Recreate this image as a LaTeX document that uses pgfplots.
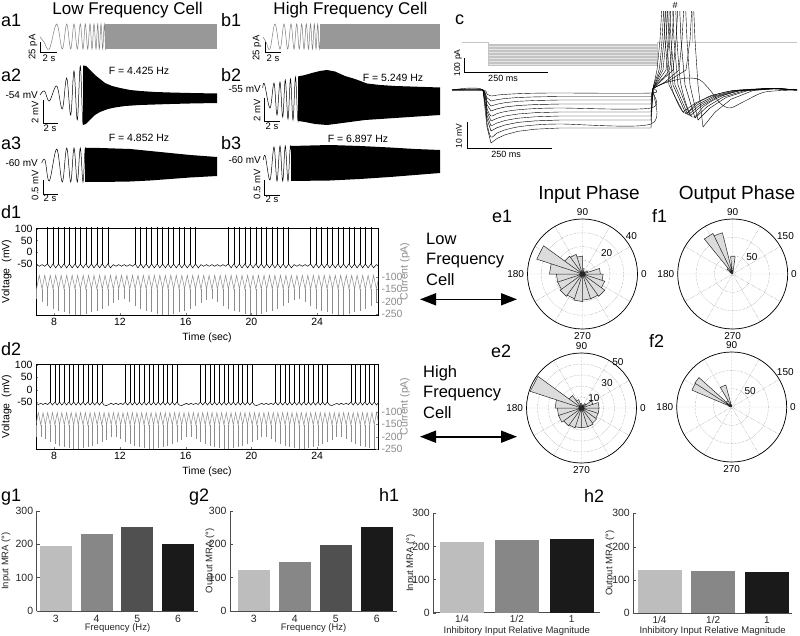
\documentclass[border=0pt]{standalone}
\usepackage{fontspec}
\setmainfont{Liberation Sans}
\usepackage{pgfplots}
\usepackage{pgfplotstable}
\pgfplotsset{compat=1.18}
\usepgfplotslibrary{polar}
\usetikzlibrary{arrows.meta}

\definecolor{gA}{HTML}{BDBDBD}
\definecolor{gB}{HTML}{878787}
\definecolor{gC}{HTML}{505050}
\definecolor{gD}{HTML}{1A1A1A}
\definecolor{wfill}{HTML}{DCDCDC}
\definecolor{curr}{HTML}{8C8C8C}
\definecolor{stim}{HTML}{7E7E7E}
\definecolor{stepc}{HTML}{C4C4C4}

\newcommand{\fs}[1]{\fontsize{#1}{#1}\selectfont}

\pgfplotsset{
  trace/.style={hide axis, scale only axis, anchor=north west},
  dstyle/.style={anchor=north west, scale only axis, width=342pt, height=87pt,
    xmin=6.9, xmax=27.7, tick align=inside, major tick length=2.5pt,
    tick label style={font=\fs{10.5}}, label style={font=\fs{10.5}},
    axis line style={black, line width=0.5pt},
    /pgf/number format/assume math mode=true},
  bstyle/.style={anchor=south west, scale only axis, ymin=0, ymax=300,
    ytick={0,100,200,300}, axis x line*=bottom, axis y line*=left,
    axis line style={-, black!70, line width=0.6pt}, tick align=inside,
    major tick length=3pt, xtick style={draw=none}, ytick style={black!70},
    tick label style={font=\fs{10.5}, text=black!85}, label style={font=\fs{9.5}, text=black!85},
    xticklabel shift=-2.5pt,
    xlabel style={at={(axis description cs:0.5,0)}, anchor=base, yshift=-19.5pt},
    ybar, /pgf/number format/assume math mode=true},
  rose/.style={anchor=center, scale only axis, width=110pt, height=110pt, ymin=0,
    clip=false, y axis line style={draw=none},
    xtick={0,30,...,330}, xticklabels={0,,,90,,,180,,,270,,}, yticklabels={},
    grid=major, major grid style={black!50, densely dotted, line width=0.4pt},
    axis line style={black, line width=0.7pt}, major tick length=0pt,
    tick label style={font=\fs{10}}, /pgf/number format/assume math mode=true},
  wedge/.style={fill=wfill, draw=black!85, line width=0.5pt},
}

% d1: spike/trough row and peak row per input cycle (3 Hz)
\pgfplotstableread{
t v ve i ie
6.93 -53 0 -148 42
7.10 -60 0 -93 0
7.27 -53 0 -148 55
7.43 -60 0 -93 0
7.60 -50 160 -148 70
7.77 -67 0 -93 0
7.93 -50 160 -148 80
8.10 -67 0 -93 0
8.27 -50 160 -148 88
8.43 -67 0 -93 0
8.60 -50 160 -148 95
8.77 -67 0 -93 0
8.93 -50 160 -148 100
9.10 -67 0 -93 0
9.27 -50 160 -148 104
9.43 -67 0 -93 0
9.60 -50 160 -148 104
9.77 -67 0 -93 0
9.93 -50 160 -148 100
10.10 -67 0 -93 0
10.27 -50 160 -148 95
10.43 -67 0 -93 0
10.60 -50 160 -148 88
10.77 -67 0 -93 0
10.93 -50 160 -148 80
11.10 -67 0 -93 0
11.27 -50 160 -148 70
11.43 -67 0 -93 0
11.60 -53 0 -148 58
11.77 -60 0 -93 0
11.93 -53 0 -148 45
12.10 -60 0 -93 0
12.27 -53 0 -148 42
12.43 -60 0 -93 0
12.60 -53 0 -148 55
12.77 -60 0 -93 0
12.93 -50 160 -148 70
13.10 -67 0 -93 0
13.27 -50 160 -148 80
13.43 -67 0 -93 0
13.60 -50 160 -148 88
13.77 -67 0 -93 0
13.93 -50 160 -148 95
14.10 -67 0 -93 0
14.27 -50 160 -148 100
14.43 -67 0 -93 0
14.60 -50 160 -148 104
14.77 -67 0 -93 0
14.93 -50 160 -148 104
15.10 -67 0 -93 0
15.27 -50 160 -148 100
15.43 -67 0 -93 0
15.60 -50 160 -148 95
15.77 -67 0 -93 0
15.93 -50 160 -148 88
16.10 -67 0 -93 0
16.27 -50 160 -148 80
16.43 -67 0 -93 0
16.60 -50 160 -148 70
16.77 -67 0 -93 0
16.93 -53 0 -148 58
17.10 -60 0 -93 0
17.27 -53 0 -148 45
17.43 -60 0 -93 0
17.60 -53 0 -148 42
17.77 -60 0 -93 0
17.93 -53 0 -148 55
18.10 -60 0 -93 0
18.27 -53 0 -148 70
18.43 -60 0 -93 0
18.60 -50 160 -148 80
18.77 -67 0 -93 0
18.93 -50 160 -148 88
19.10 -67 0 -93 0
19.27 -50 160 -148 95
19.43 -67 0 -93 0
19.60 -50 160 -148 100
19.77 -67 0 -93 0
19.93 -50 160 -148 104
20.10 -67 0 -93 0
20.27 -50 160 -148 104
20.43 -67 0 -93 0
20.60 -50 160 -148 100
20.77 -67 0 -93 0
20.93 -50 160 -148 95
21.10 -67 0 -93 0
21.27 -50 160 -148 88
21.43 -67 0 -93 0
21.60 -50 160 -148 80
21.77 -67 0 -93 0
21.93 -50 160 -148 70
22.10 -67 0 -93 0
22.27 -50 160 -148 58
22.43 -67 0 -93 0
22.60 -53 0 -148 45
22.77 -60 0 -93 0
22.93 -53 0 -148 42
23.10 -60 0 -93 0
23.27 -53 0 -148 55
23.43 -60 0 -93 0
23.60 -50 160 -148 70
23.77 -67 0 -93 0
23.93 -50 160 -148 80
24.10 -67 0 -93 0
24.27 -50 160 -148 88
24.43 -67 0 -93 0
24.60 -50 160 -148 95
24.77 -67 0 -93 0
24.93 -50 160 -148 100
25.10 -67 0 -93 0
25.27 -50 160 -148 104
25.43 -67 0 -93 0
25.60 -50 160 -148 104
25.77 -67 0 -93 0
25.93 -50 160 -148 100
26.10 -67 0 -93 0
26.27 -50 160 -148 95
26.43 -67 0 -93 0
26.60 -50 160 -148 88
26.77 -67 0 -93 0
26.93 -50 160 -148 80
27.10 -67 0 -93 0
27.27 -50 160 -148 70
27.43 -67 0 -93 0
27.60 -53 0 -148 58
27.77 -60 0 -93 0
}\dA

% d2: same layout, 3.5 Hz input
\pgfplotstableread{
t v ve i ie
6.90 -55 0 -152 50
7.04 -60 0 -103 0
7.19 -55 0 -152 48
7.33 -60 0 -103 0
7.47 -55 0 -152 58
7.61 -60 0 -103 0
7.76 -50 160 -152 70
7.90 -62 0 -103 0
8.05 -50 160 -152 78
8.19 -62 0 -103 0
8.33 -50 160 -152 85
8.47 -62 0 -103 0
8.62 -50 160 -152 90
8.76 -62 0 -103 0
8.90 -50 160 -152 95
9.04 -62 0 -103 0
9.19 -50 160 -152 98
9.33 -62 0 -103 0
9.47 -50 160 -152 98
9.61 -62 0 -103 0
9.76 -50 160 -152 95
9.90 -62 0 -103 0
10.05 -50 160 -152 90
10.19 -62 0 -103 0
10.33 -50 160 -152 85
10.47 -62 0 -103 0
10.62 -50 160 -152 78
10.76 -62 0 -103 0
10.90 -50 160 -152 70
11.04 -62 0 -103 0
11.19 -64 0 -152 60
11.33 -60 0 -103 0
11.47 -55 0 -152 50
11.61 -60 0 -103 0
11.76 -55 0 -152 48
11.90 -60 0 -103 0
12.05 -55 0 -152 58
12.19 -60 0 -103 0
12.33 -50 160 -152 70
12.47 -62 0 -103 0
12.62 -50 160 -152 78
12.76 -62 0 -103 0
12.90 -50 160 -152 85
13.04 -62 0 -103 0
13.19 -50 160 -152 90
13.33 -62 0 -103 0
13.47 -50 160 -152 95
13.61 -62 0 -103 0
13.76 -50 160 -152 98
13.90 -62 0 -103 0
14.05 -50 160 -152 98
14.19 -62 0 -103 0
14.33 -50 160 -152 95
14.47 -62 0 -103 0
14.62 -50 160 -152 90
14.76 -62 0 -103 0
14.90 -50 160 -152 85
15.04 -62 0 -103 0
15.19 -50 160 -152 78
15.33 -62 0 -103 0
15.47 -50 160 -152 70
15.61 -62 0 -103 0
15.76 -64 0 -152 60
15.90 -60 0 -103 0
16.05 -55 0 -152 50
16.19 -60 0 -103 0
16.33 -55 0 -152 48
16.47 -60 0 -103 0
16.62 -55 0 -152 58
16.76 -60 0 -103 0
16.90 -50 160 -152 70
17.04 -62 0 -103 0
17.19 -50 160 -152 78
17.33 -62 0 -103 0
17.47 -50 160 -152 85
17.61 -62 0 -103 0
17.76 -50 160 -152 90
17.90 -62 0 -103 0
18.05 -50 160 -152 95
18.19 -62 0 -103 0
18.33 -50 160 -152 98
18.47 -62 0 -103 0
18.62 -50 160 -152 98
18.76 -62 0 -103 0
18.90 -50 160 -152 95
19.04 -62 0 -103 0
19.19 -50 160 -152 90
19.33 -62 0 -103 0
19.47 -50 160 -152 85
19.61 -62 0 -103 0
19.76 -50 160 -152 78
19.90 -62 0 -103 0
20.05 -50 160 -152 70
20.19 -62 0 -103 0
20.33 -64 0 -152 60
20.47 -60 0 -103 0
20.62 -55 0 -152 50
20.76 -60 0 -103 0
20.90 -55 0 -152 48
21.04 -60 0 -103 0
21.19 -55 0 -152 58
21.33 -60 0 -103 0
21.47 -50 160 -152 70
21.61 -62 0 -103 0
21.76 -50 160 -152 78
21.90 -62 0 -103 0
22.05 -50 160 -152 85
22.19 -62 0 -103 0
22.33 -50 160 -152 90
22.47 -62 0 -103 0
22.62 -50 160 -152 95
22.76 -62 0 -103 0
22.90 -50 160 -152 98
23.04 -62 0 -103 0
23.19 -50 160 -152 98
23.33 -62 0 -103 0
23.47 -50 160 -152 95
23.61 -62 0 -103 0
23.76 -50 160 -152 90
23.90 -62 0 -103 0
24.05 -50 160 -152 85
24.19 -62 0 -103 0
24.33 -50 160 -152 78
24.47 -62 0 -103 0
24.62 -50 160 -152 70
24.76 -62 0 -103 0
24.90 -64 0 -152 60
25.04 -60 0 -103 0
25.19 -55 0 -152 50
25.33 -60 0 -103 0
25.47 -55 0 -152 48
25.61 -60 0 -103 0
25.76 -55 0 -152 58
25.90 -60 0 -103 0
26.05 -50 160 -152 70
26.19 -62 0 -103 0
26.33 -50 160 -152 78
26.47 -62 0 -103 0
26.62 -50 160 -152 85
26.76 -62 0 -103 0
26.90 -50 160 -152 90
27.04 -62 0 -103 0
27.19 -50 160 -152 95
27.33 -62 0 -103 0
27.47 -50 160 -152 98
27.61 -62 0 -103 0
27.76 -50 160 -152 98
}\dB

\begin{document}
\begin{tikzpicture}
\useasboundingbox (0,0) rectangle (800pt,-636pt);

% ---------------- a / b : chirp traces (page-pixel units) ----------------
\begin{axis}[trace, at={(0pt,0pt)}, width=450pt, height=200pt,
  xmin=0, xmax=450, ymin=-200, ymax=0, clip=false]
% a1 stimulus
\addplot[stim, line width=0.5pt, smooth, tension=0.6] coordinates {
 (40,-37)(44,-42)(49.3,-49)(56.7,-24)(62.3,-49)(66.7,-24)(70.7,-49)(74,-24)
 (77.3,-49)(80.3,-24)(83,-49)(85.3,-24)(87.7,-49)(90,-24)(92,-49)(94,-24)
 (96,-49)(97.7,-24)(99.3,-49)(101,-24)(102.7,-49)(104.3,-24)(105.7,-49)(107,-24)};
\addplot[fill=stim!80, draw=none] coordinates {(105,-24)(217,-24)(217,-49)(105,-49)};
% a2 response
\addplot[black, line width=0.5pt, smooth, tension=0.6] coordinates {
 (40,-95)(44.5,-91)(49.3,-101)(56.7,-86)(62.3,-109)(66.7,-78)(70.7,-115)(74,-71)
 (77.3,-120)(80.3,-66)(83,-124)(85.3,-66)};
\addplot[fill=black, draw=none] coordinates {
 (83,-65.5)(86,-66)(90,-70)(95,-75)(100,-79)(105,-83)(112,-86)(120,-88)(130,-90)
 (140,-91)(155,-92)(170,-92.5)(190,-93)(217,-93.5)
 (217,-103)(190,-103.5)(170,-104)(155,-104.5)(140,-105)(125,-106)(115,-107.5)
 (108,-109)(100,-112)(95,-115)(90,-120)(86,-124)(83,-125)};
% a3 response
\addplot[black, line width=0.5pt, smooth, tension=0.6] coordinates {
 (41.7,-163)(45,-160)(49.3,-181)(56.7,-149)(62.3,-182)(66.7,-148)(70.7,-182)(74,-148)
 (77.3,-182)(80.3,-148)(83,-182)(85.3,-148)(87.7,-182)};
\addplot[fill=black, draw=none] coordinates {
 (85,-148)(100,-148)(130,-149)(150,-151)(170,-153)(190,-155)(217,-157)
 (217,-176)(190,-177.5)(170,-179)(150,-180.5)(130,-181.5)(100,-182)(85,-182)};
% b1 stimulus
\addplot[stim, line width=0.5pt, smooth, tension=0.6] coordinates {
 (263,-37)(266,-42)(270,-49)(275,-24)(280,-49)(284,-24)(287.7,-49)(291,-24)
 (294,-49)(296.7,-24)(299.3,-49)(301.7,-24)(304,-49)(306.3,-24)(308.5,-49)(310.5,-24)
 (312.5,-49)(314.3,-24)(316,-49)(317.7,-24)(319.3,-49)(321,-24)};
\addplot[fill=stim!80, draw=none] coordinates {(320,-24)(440,-24)(440,-49)(320,-49)};
% b2 response
\addplot[black, line width=0.5pt, smooth, tension=0.6] coordinates {
 (262.7,-88)(264.5,-84)(270,-108)(274,-83)(277,-115)(280,-82)(282.7,-117)(285.3,-80)
 (288,-119)(290.5,-79)(293,-120)(295.5,-77)(298,-121)(300.3,-76)};
\addplot[fill=black, draw=none] coordinates {
 (298,-76.5)(305,-75)(312,-73)(320,-71)(327,-70)(335,-71.5)(345,-76)(355,-79)
 (367,-83.5)(380,-85)(395,-86)(410,-86.5)(425,-87)(440,-87.5)
 (440,-115)(425,-116)(410,-117)(395,-118)(380,-119)(365,-120)(350,-122)(335,-124)
 (327,-125)(315,-124)(305,-122)(298,-121)};
% b3 response
\addplot[black, line width=0.5pt, smooth, tension=0.6] coordinates {
 (263.3,-160)(265.3,-156)(270,-180)(274,-147)(277,-181)(280,-146)(282.7,-181)
 (285.3,-146)(288,-181)(290.5,-146)(293,-181)};
\addplot[fill=black, draw=none] coordinates {
 (291,-146)(330,-145)(360,-146)(390,-147.5)(415,-149)(440,-150)
 (440,-173)(415,-175)(390,-177)(360,-179)(330,-180.5)(291,-181)};
% scale bars
\addplot[black, line width=0.7pt] coordinates {(40,-42)(40,-52)(57,-52)};
\addplot[black, line width=0.7pt] coordinates {(43,-100)(43,-123)(58,-123)};
\addplot[black, line width=0.7pt] coordinates {(43,-180)(43,-194)(58,-194)};
\addplot[black, line width=0.7pt] coordinates {(265,-42)(265,-52)(281,-52)};
\addplot[black, line width=0.7pt] coordinates {(264,-98)(264,-121.7)(280,-121.7)};
\addplot[black, line width=0.7pt] coordinates {(264,-180)(264,-195)(280,-195)};
\end{axis}

% ---------------- c : step currents and voltage responses ----------------
\begin{axis}[trace, at={(450pt,-12pt)}, width=350pt, height=188pt,
  xmin=450, xmax=800, ymin=-200, ymax=-12]
\addplot[fill=stepc!45, draw=none] coordinates {(488,-44)(657,-44)(657,-65)(488,-65)};
\addplot[stepc, line width=0.5pt] coordinates {
 (462,-42.5)(488,-42.5)(488,-44)(657,-44)(657,-45.5)(488,-45.5)(488,-47)(657,-47)
 (657,-48.5)(488,-48.5)(488,-50)(657,-50)(657,-51.5)(488,-51.5)(488,-53)(657,-53)
 (657,-54.5)(488,-54.5)(488,-56)(657,-56)(657,-57.5)(488,-57.5)(488,-59)(657,-59)
 (657,-60.5)(488,-60.5)(488,-62)(657,-62)(657,-63.5)(488,-63.5)(488,-65)(657,-65)
 (657,-42.5)(692,-42.5)(692,-12)(692,-42.5)(797,-42.5)};
\pgfplotsset{cycle list={{black, line width=0.45pt, smooth, tension=0.3}}}
\addplot coordinates {(452,-90)(483,-90)(487,-94.2)(491,-96)(497,-95.1)(505,-94.4)(518,-93.7)(535,-93.2)(560,-93)(651,-93)(654,-88)(665,-83)(680,-79)(690,-78)(700,-80)(710,-90)(720,-103)(730,-108)(745,-101)(765,-92)(797,-90)};
\addplot coordinates {(452,-90)(483,-90)(487,-97.7)(491,-101)(497,-99.7)(505,-98.5)(518,-97.5)(535,-96.9)(560,-96.5)(651,-96.5)(653,-88.5)(670,-80)(686,-70)(690,-40)(692,-5)(693.5,-5)(695,-40)(698,-85)(703,-127)(715,-112.2)(731,-99.3)(753,-90.5)(780,-88.5)(797,-90)};
\addplot coordinates {(452,-90)(483,-90)(487,-101.2)(491,-106)(497,-104.2)(505,-102.7)(518,-101.3)(535,-100.5)(560,-100)(651,-100)(653,-88.5)(665,-82)(679,-70)(682,-40)(684,-5)(685.5,-5)(687,-40)(690,-85)(698,-120)(710,-108)(726,-97.5)(748,-90.5)(778,-88.5)(797,-90)};
\addplot coordinates {(452,-90)(483,-90)(487,-104.7)(491,-111)(497,-108.9)(505,-107)(518,-105.5)(535,-104.6)(560,-104)(651,-104)(653,-88.5)(673,-70)(676,-40)(678,-5)(679.5,-5)(681,-40)(685,-85)(695,-118)(707,-106.8)(723,-97)(745,-90.5)(776,-88.5)(797,-90)};
\addplot coordinates {(452,-90)(483,-90)(487,-108.2)(491,-116)(497,-113.6)(505,-111.6)(518,-109.8)(535,-108.6)(560,-108)(651,-108)(653,-88.5)(669,-70)(672,-40)(674,-5)(675.5,-5)(677,-40)(681,-85)(692,-117)(704,-106.2)(720,-96.8)(742,-90.5)(774,-88.5)(797,-90)};
\addplot coordinates {(452,-90)(483,-90)(487,-111.7)(491,-121)(497,-118.3)(505,-116)(518,-114)(535,-112.7)(560,-112)(651,-112)(653,-88.5)(666,-70)(669,-40)(671,-5)(672.5,-5)(674,-40)(678,-85)(690,-116)(702,-105.6)(718,-96.5)(740,-90.5)(772,-88.5)(797,-90)};
\addplot coordinates {(452,-90)(483,-90)(487,-115.2)(491,-126)(497,-123)(505,-120.5)(518,-118.2)(535,-116.8)(560,-116)(651,-116)(653,-88.5)(663,-70)(666,-40)(668,-5)(669.5,-5)(671,-40)(675,-85)(688,-115)(700,-105)(716,-96.3)(738,-90.5)(770,-88.5)(797,-90)};
\addplot coordinates {(452,-90)(483,-90)(487,-118.7)(491,-131)(497,-127.7)(505,-125)(518,-122.4)(535,-120.9)(560,-120)(651,-120)(653,-88.5)(661,-70)(664,-40)(666,-5)(667.5,-5)(669,-40)(673,-85)(686,-114)(698,-104.4)(714,-96)(736,-90.5)(770,-88.5)(797,-90)};
\addplot coordinates {(452,-90)(483,-90)(487,-123.1)(491,-137)(497,-133.1)(505,-129.9)(518,-126.9)(535,-125)(560,-124)(651,-124)(653,-88.5)(659,-70)(662,-40)(664,-5)(665.5,-5)(667,-40)(671,-85)(684,-113)(696,-103.8)(712,-95.8)(734,-90.5)(770,-88.5)(797,-90)};
\addplot coordinates {(452,-90)(483,-90)(487,-127.1)(491,-143)(497,-138.5)(505,-134.8)(518,-131.3)(535,-129.2)(560,-128)(651,-128)(653,-88.5)(657,-70)(660,-40)(662,-5)(663.5,-5)(665,-40)(669,-85)(683,-112)(695,-103.2)(711,-95.5)(733,-90.5)(770,-88.5)(797,-90)};
\addplot[black, line width=0.7pt] coordinates {(464,-58)(464,-72)(548,-72)};
\addplot[black, line width=0.7pt] coordinates {(467,-122)(467,-148)(552,-148)};
\end{axis}

% ---------------- d1 ----------------
\begin{axis}[dstyle, at={(36pt,-228pt)}, ymin=-269, ymax=104,
  ytick={-50,0,50,100}, xtick={8,12,16,20,24}, xtick pos=bottom, ytick pos=left,
  xlabel={Time (sec)}, ylabel={Voltage\ \ (mV)},
  ylabel style={at={(axis description cs:-0.086,0.5)}, anchor=center}]
\addplot[black, line width=0.5pt, error bars/.cd, y dir=plus, y explicit,
  error mark=none, error bar style={black, line width=0.5pt}]
  table[x=t, y=v, y error=ve] {\dA};
\end{axis}
\begin{axis}[dstyle, at={(36pt,-228pt)}, ymin=-254, ymax=99,
  axis y line*=right, axis x line=none, ytick={-250,-200,-150,-100},
  yticklabel style={text=curr}, ylabel={Current (pA)},
  ylabel style={text=curr, at={(axis description cs:1.079,0.5)}, anchor=center}]
\addplot[curr, line width=0.5pt, error bars/.cd, y dir=minus, y explicit,
  error mark=none, error bar style={curr, line width=0.5pt}]
  table[x=t, y=i, y error=ie] {\dA};
\end{axis}

% ---------------- d2 ----------------
\begin{axis}[dstyle, at={(36pt,-364pt)}, height=85pt, ymin=-240, ymax=104,
  ytick={-50,0,50,100}, xtick={8,12,16,20,24}, xtick pos=bottom, ytick pos=left,
  xlabel={Time (sec)}, ylabel={Voltage\ \ (mV)},
  ylabel style={at={(axis description cs:-0.086,0.5)}, anchor=center}]
\addplot[black, line width=0.5pt, error bars/.cd, y dir=plus, y explicit,
  error mark=none, error bar style={black, line width=0.5pt}]
  table[x=t, y=v, y error=ve] {\dB};
\end{axis}
\begin{axis}[dstyle, at={(36pt,-364pt)}, height=85pt, ymin=-250, ymax=94,
  axis y line*=right, axis x line=none, ytick={-250,-200,-150,-100},
  yticklabel style={text=curr}, ylabel={Current (pA)},
  ylabel style={text=curr, at={(axis description cs:1.079,0.5)}, anchor=center}]
\addplot[curr, line width=0.5pt, error bars/.cd, y dir=minus, y explicit,
  error mark=none, error bar style={curr, line width=0.5pt}]
  table[x=t, y=i, y error=ie] {\dB};
\end{axis}

% ---------------- e1 / e2 / f1 / f2 : phase roses ----------------
\begin{polaraxis}[rose, at={(582.5pt,-274pt)}, ymax=40, ytick={10,20,30,40}]
\addplot[wedge] coordinates {(0,0)(0,13)(18,13)(0,0)(18,4)(36,4)(0,0)(36,2)(54,2)(0,0)
 (54,2)(72,2)(0,0)(72,4)(90,4)(0,0)(90,13)(108,13)(0,0)(108,15)(126,15)(0,0)
 (126,16)(144,16)(0,0)(144,35)(162,35)(0,0)(162,24)(180,24)(0,0)(180,19)(198,19)(0,0)
 (198,19)(216,19)(0,0)(216,20)(234,20)(0,0)(234,19)(252,19)(0,0)(252,20)(270,20)(0,0)
 (270,19)(288,19)(0,0)(288,19)(306,19)(0,0)(306,20)(324,20)(0,0)(324,17)(342,17)(0,0)
 (342,15)(360,15)(0,0)};
\node[font=\fs{10}] at (axis cs:41,23.3) {20};
\node[font=\fs{10}] at (axis cs:37.7,45) {40};
\end{polaraxis}

\begin{polaraxis}[rose, at={(581.5pt,-408pt)}, ymax=50, ytick={10,20,30,40,50}]
\addplot[wedge] coordinates {(0,0)(0,16)(18,16)(0,0)(18,11)(36,11)(0,0)(36,5)(54,5)(0,0)
 (54,3)(72,3)(0,0)(72,3)(90,3)(0,0)(90,4)(108,4)(0,0)(108,8)(126,8)(0,0)
 (126,14)(144,14)(0,0)(144,49)(162,49)(0,0)(162,24)(180,24)(0,0)(180,22)(198,22)(0,0)
 (198,22)(216,22)(0,0)(216,20)(234,20)(0,0)(234,19)(252,19)(0,0)(252,18)(270,18)(0,0)
 (270,18)(288,18)(0,0)(288,18)(306,18)(0,0)(306,17)(324,17)(0,0)(324,16)(342,16)(0,0)
 (342,16)(360,16)(0,0)};
\node[font=\fs{10}] at (axis cs:38.7,14.5) {10};
\node[font=\fs{10}] at (axis cs:44.4,32.5) {30};
\node[font=\fs{10}] at (axis cs:51.6,53.4) {50};
\end{polaraxis}

\begin{polaraxis}[rose, at={(732.7pt,-274pt)}, ymax=150, ytick={50,100,150}]
\addplot[wedge] coordinates {(0,0)(82,48)(97,48)(0,0)(104,116)(116,116)(0,0)
 (116,123)(129,123)(0,0)(129,20)(141,20)(0,0)(141,8)(153,8)(0,0)};
\node[font=\fs{10}] at (axis cs:41.3,69.6) {50};
\node[font=\fs{10}] at (axis cs:36,178) {150};
\end{polaraxis}

\begin{polaraxis}[rose, at={(731.7pt,-407pt)}, ymax=150, ytick={50,100,150}]
\addplot[wedge] coordinates {(0,0)(90,6)(105,6)(0,0)(105,62)(120,62)(0,0)
 (120,20)(138,20)(0,0)(138,120)(147,120)(0,0)(147,118)(157,118)(0,0)(157,8)(170,8)(0,0)};
\node[font=\fs{10}] at (axis cs:41.2,67) {50};
\node[font=\fs{10}] at (axis cs:33.3,175) {150};
\end{polaraxis}

% ---------------- g1 / g2 / h1 / h2 : mean resultant angles ----------------
\begin{axis}[bstyle, at={(36.7pt,-611pt)}, width=161.6pt, height=100.3pt,
  xmin=2.53, xmax=6.5, bar width=32pt, xtick={3,4,5,6},
  xlabel={Frequency (Hz)}, ylabel={Input MRA (°)},
  ylabel style={at={(axis description cs:-0.19,0.5)}, anchor=center}]
\addplot[fill=gA, draw=none, bar shift=0pt] coordinates {(3,195)};
\addplot[fill=gB, draw=none, bar shift=0pt] coordinates {(4,230)};
\addplot[fill=gC, draw=none, bar shift=0pt] coordinates {(5,251)};
\addplot[fill=gD, draw=none, bar shift=0pt] coordinates {(6,200)};
\end{axis}

\begin{axis}[bstyle, at={(230pt,-611pt)}, width=167.3pt, height=100.3pt,
  xmin=2.42, xmax=6.5, bar width=32pt, xtick={3,4,5,6},
  xlabel={Frequency (Hz)}, ylabel={Output MRA (°)},
  ylabel style={at={(axis description cs:-0.12,0.5)}, anchor=center}]
\addplot[fill=gA, draw=none, bar shift=0pt] coordinates {(3,123)};
\addplot[fill=gB, draw=none, bar shift=0pt] coordinates {(4,147)};
\addplot[fill=gC, draw=none, bar shift=0pt] coordinates {(5,197)};
\addplot[fill=gD, draw=none, bar shift=0pt] coordinates {(6,251)};
\end{axis}

\begin{axis}[bstyle, at={(433.3pt,-612.7pt)}, width=167pt, height=99.4pt,
  xmin=0.477, xmax=3.52, bar width=44pt, xtick={1,2,3}, xticklabels={1/4,1/2,1},
  xticklabel shift=-3.5pt, xticklabel style={font=\fs{10}},
  xlabel style={yshift=-1pt},
  xlabel={Inhibitory Input Relative Magnitude}, ylabel={Input MRA (°)},
  ylabel style={at={(axis description cs:-0.135,0.5)}, anchor=center}]
\addplot[fill=gA, draw=none, bar shift=0pt] coordinates {(1,212)};
\addplot[fill=gB, draw=none, bar shift=0pt] coordinates {(2,220)};
\addplot[fill=gD, draw=none, bar shift=0pt] coordinates {(3,221)};
\end{axis}

\begin{axis}[bstyle, at={(633.3pt,-613.3pt)}, width=158.7pt, height=100pt,
  xmin=0.51, xmax=3.47, bar width=44pt, xtick={1,2,3}, xticklabels={1/4,1/2,1},
  xticklabel shift=-3.5pt, xticklabel style={font=\fs{10}},
  xlabel style={yshift=-0.5pt},
  xlabel={Inhibitory Input Relative Magnitude}, ylabel={Output MRA (°)},
  ylabel style={at={(axis description cs:-0.147,0.5)}, anchor=center}]
\addplot[fill=gA, draw=none, bar shift=0pt] coordinates {(1,129)};
\addplot[fill=gB, draw=none, bar shift=0pt] coordinates {(2,126)};
\addplot[fill=gD, draw=none, bar shift=0pt] coordinates {(3,124)};
\end{axis}

% ---------------- text ----------------
\begin{scope}[every node/.style={inner sep=0pt}]
\foreach \lab/\x/\y in {a1/1/27, a2/1/82, a3/1/150, b1/221/27, b2/221/82, b3/221/150,
  c/455/25, d1/1/219, d2/1/355, e1/492/223, f1/652/223, e2/491/357, f2/649/347,
  g1/1/501, g2/189/501, h1/379/501, h2/584/502}
  \node[anchor=base west, font=\fs{18}] at (\x pt,-\y pt) {\lab};
\node[anchor=base, font=\fs{17}] at (127.5pt,-15pt) {Low Frequency Cell};
\node[anchor=base, font=\fs{17}] at (350.5pt,-15pt) {High Frequency Cell};
\node[anchor=base, font=\fs{10.5}] at (139pt,-75pt) {F = 4.425 Hz};
\node[anchor=base, font=\fs{10.5}] at (139pt,-142pt) {F = 4.852 Hz};
\node[anchor=base, font=\fs{10.5}] at (393pt,-81.5pt) {F = 5.249 Hz};
\node[anchor=base, font=\fs{10.5}] at (358pt,-142.5pt) {F = 6.897 Hz};
\node[anchor=east, font=\fs{10}] at (38pt,-95pt) {-54 mV};
\node[anchor=east, font=\fs{10}] at (38pt,-163pt) {-60 mV};
\node[anchor=east, font=\fs{10}] at (261pt,-89pt) {-55 mV};
\node[anchor=east, font=\fs{10}] at (261pt,-160pt) {-60 mV};
\node[rotate=90, font=\fs{9.5}] at (33pt,-47pt) {25 pA};
\node[rotate=90, font=\fs{9.5}] at (257pt,-48pt) {25 pA};
\node[rotate=90, font=\fs{9.5}] at (35pt,-112pt) {2 mV};
\node[rotate=90, font=\fs{9.5}] at (257pt,-110pt) {2 mV};
\node[rotate=90, font=\fs{9.5}] at (35pt,-185pt) {0.5 mV};
\node[rotate=90, font=\fs{9.5}] at (257pt,-184pt) {0.5 mV};
\node[font=\fs{9.5}] at (49pt,-58pt) {2 s};
\node[font=\fs{9.5}] at (273pt,-58pt) {2 s};
\node[font=\fs{9.5}] at (50pt,-128.5pt) {2 s};
\node[font=\fs{9.5}] at (272pt,-126.5pt) {2 s};
\node[font=\fs{9.5}] at (50pt,-198.5pt) {2 s};
\node[font=\fs{9.5}] at (272pt,-199pt) {2 s};
\node[rotate=90, font=\fs{8.5}] at (458pt,-63pt) {100 pA};
\node[font=\fs{9}] at (503pt,-78.5pt) {250 ms};
\node[rotate=90, font=\fs{8.5}] at (459pt,-136pt) {10 mV};
\node[font=\fs{9}] at (506pt,-154pt) {250 ms};
\node[font=\fs{9}] at (675pt,-5.5pt) {\#};
\node[anchor=base, font=\fs{19}] at (589pt,-200pt) {Input Phase};
\node[anchor=base, font=\fs{19}] at (737pt,-200pt) {Output Phase};
\node[anchor=base west, font=\fs{16.5}] at (426pt,-245pt) {Low};
\node[anchor=base west, font=\fs{16.5}] at (426pt,-264.5pt) {Frequency};
\node[anchor=base west, font=\fs{16.5}] at (426pt,-285pt) {Cell};
\node[anchor=base west, font=\fs{16.5}] at (423pt,-377pt) {High};
\node[anchor=base west, font=\fs{16.5}] at (423pt,-397.5pt) {Frequency};
\node[anchor=base west, font=\fs{16.5}] at (423pt,-418pt) {Cell};
\end{scope}
\draw[line width=1.6pt, {Triangle[length=16pt,width=12pt]}-{Triangle[length=16pt,width=12pt]}]
  (420pt,-299.3pt) -- (517pt,-299.3pt);
\draw[line width=1.6pt, {Triangle[length=16pt,width=12pt]}-{Triangle[length=16pt,width=12pt]}]
  (420pt,-436.7pt) -- (517pt,-436.7pt);
\end{tikzpicture}
\end{document}
